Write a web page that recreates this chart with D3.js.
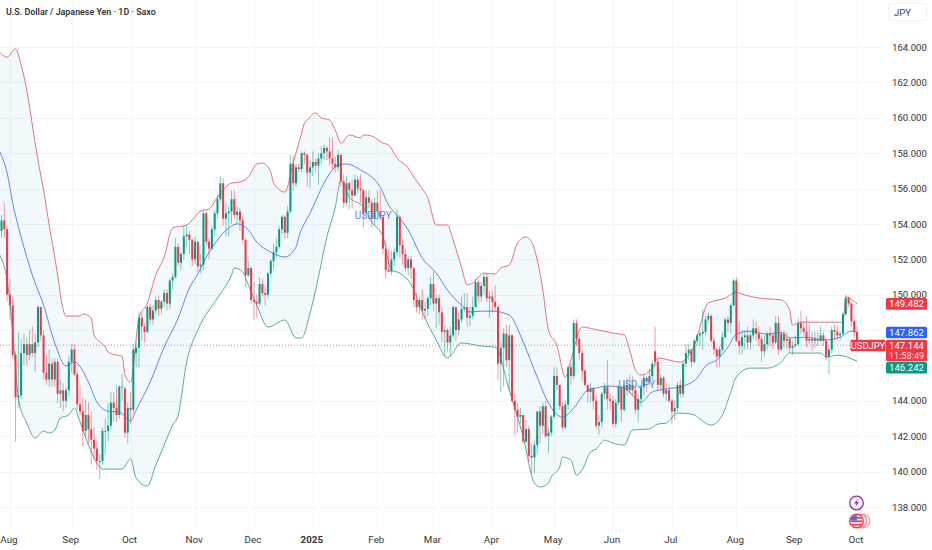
<!DOCTYPE html>
<html>
<head>
<meta charset="utf-8">
<style>
  html,body{margin:0;padding:0;background:#fff;}
  svg{display:block;font-family:Roboto,"Liberation Sans",sans-serif;}
</style>
</head>
<body>
<svg id="chart" width="932" height="550"></svg>
<script src="https://cdn.jsdelivr.net/npm/d3@7/dist/d3.min.js"></script>
<script>
// candles per month: [open, high, low, close]
const jul24=[[153.6,154.5,153.2,154.2],[154.2,155.2,153.2,153.7],[153.7,153.9,149.6,150.0]];
const aug24=[[150.0,150.9,148.6,149.4],[149.4,149.9,146.4,146.6],[146.6,146.8,141.7,144.2],[144.2,147.9,143.6,144.3],[144.3,147.5,144.1,146.7],[146.7,147.8,146.0,147.2],[147.2,147.6,146.0,146.6],[146.6,148.0,146.3,147.2],[147.2,148.2,146.5,146.7],[146.7,147.8,145.6,147.3],[147.3,149.4,147.0,149.3],[149.3,149.3,147.4,147.7],[147.7,148.0,145.2,145.6],[145.6,146.6,144.9,145.2],[145.2,146.9,144.8,146.1],[146.1,146.4,144.8,145.2],[145.2,146.4,144.8,146.2],[146.2,146.4,143.9,144.4],[144.4,145.2,143.6,144.6],[144.6,145.0,143.4,144.0],[144.0,144.8,143.6,144.6],[144.6,146.5,144.3,146.2]];
const sep24=[[146.2,147.2,145.6,146.9],[146.9,147.2,145.4,145.5],[145.5,145.7,143.5,143.8],[143.8,144.9,143.2,143.4],[143.4,144.2,141.4,142.3],[142.3,144.1,142.0,143.2],[143.2,143.9,141.6,142.4],[142.4,143.4,140.4,141.8],[141.8,142.5,140.7,141.3],[141.3,141.7,140.1,140.6],[140.6,141.0,139.6,140.6],[140.6,142.5,140.4,142.3],[142.3,143.0,141.0,142.3],[142.3,143.9,141.7,142.6],[142.6,144.5,142.4,143.9],[143.9,144.5,142.8,143.6],[143.6,144.9,142.8,143.2],[143.2,144.9,143.0,144.8],[144.8,145.5,144.0,144.8],[144.7,144.8,141.9,142.2],[142.2,143.9,141.6,143.6]];
const oct24=[[143.6,144.5,142.7,143.5],[143.5,147.2,143.3,146.9],[146.7,147.3,145.9,147.0],[147.0,149.0,145.9,148.7],[148.7,149.0,147.4,148.2],[148.2,148.4,147.3,147.9],[147.9,149.4,147.8,149.3],[149.3,149.5,148.3,148.6],[148.6,149.4,148.3,149.1],[149.1,149.9,148.9,149.7],[149.7,149.9,148.8,149.2],[149.2,149.7,148.9,149.6],[149.6,150.3,149.3,150.1],[150.1,150.3,149.1,149.5],[149.5,150.9,149.2,150.8],[150.8,151.2,150.3,151.0],[151.0,153.2,150.9,152.7],[152.7,152.9,151.6,151.8],[151.8,152.4,151.4,152.3],[152.3,153.9,152.0,153.3],[153.3,153.9,152.7,153.4],[153.4,153.6,152.3,153.1],[153.1,153.2,151.6,152.0]];
const nov24=[[152.0,153.3,151.7,153.0],[153.0,153.0,151.3,151.6],[151.6,152.3,151.2,151.7],[151.7,154.7,151.4,154.6],[154.6,154.7,152.8,153.0],[153.0,153.2,152.0,152.6],[152.6,153.9,152.5,153.7],[153.7,154.8,153.3,154.6],[154.6,155.6,154.3,155.4],[155.4,156.7,155.2,156.3],[156.3,156.6,153.9,154.3],[154.3,155.2,153.3,154.6],[154.6,155.0,153.3,154.7],[154.7,155.9,154.0,155.4],[155.4,155.9,154.3,154.5],[154.5,155.0,154.0,154.7],[154.7,154.9,153.6,154.2],[154.2,154.4,152.9,153.1],[153.1,153.2,150.4,151.1],[151.1,151.9,151.0,151.5],[151.5,151.6,149.5,149.7]];
const dec24=[[149.7,150.7,148.6,149.6],[149.6,150.0,148.7,149.5],[149.5,151.0,149.4,150.6],[150.6,150.9,149.9,150.1],[150.1,150.5,149.4,150.0],[150.0,151.3,149.8,151.2],[151.2,152.0,151.0,151.9],[151.9,152.9,151.4,152.4],[152.4,153.2,152.1,152.7],[152.7,153.9,152.6,153.7],[153.7,154.5,153.4,154.4],[154.4,154.5,153.2,153.5],[153.5,155.0,153.2,154.7],[154.7,157.9,154.6,157.4],[157.4,157.9,155.9,156.3],[156.3,157.4,156.1,157.2],[157.2,157.4,156.9,157.1],[157.1,158.1,156.9,158.0],[158.0,158.1,157.4,157.9],[157.9,158.0,156.1,156.9],[156.9,157.6,156.0,157.2]];
const jan25=[[157.2,158.1,156.7,157.5],[157.5,157.7,156.9,157.3],[157.3,158.0,156.2,157.7],[157.7,158.4,157.4,158.0],[158.0,158.5,157.6,158.3],[158.3,158.4,157.6,158.1],[158.1,158.9,157.3,157.7],[157.7,158.9,157.1,157.4],[157.4,157.8,156.9,157.2],[157.2,158.2,157.0,157.9],[157.9,158.0,156.1,156.4],[156.4,156.8,154.9,155.2],[155.2,156.7,155.0,156.3],[156.3,156.4,154.8,155.9],[155.9,156.5,154.9,155.6],[155.6,156.8,155.6,156.5],[156.5,156.7,155.7,156.0],[156.0,156.8,155.2,155.9],[155.9,156.0,153.8,154.6],[154.6,155.9,154.5,155.5],[155.5,155.9,154.9,155.2],[155.2,155.4,153.8,154.3],[154.3,155.5,153.9,155.2]];
const feb25=[[155.2,155.9,154.5,154.7],[154.7,155.9,154.2,154.4],[154.4,154.5,152.3,152.6],[152.6,153.1,150.9,151.4],[151.4,152.6,151.3,151.3],[151.3,152.5,151.1,152.0],[152.0,152.6,151.6,152.4],[152.4,154.8,152.2,154.4],[154.4,154.5,152.1,152.8],[152.8,153.2,151.7,152.3],[152.3,152.6,151.3,151.5],[151.5,152.2,151.1,152.0],[152.0,152.2,150.9,151.5],[151.5,151.6,149.3,149.7],[149.7,150.1,149.0,149.3],[149.3,149.9,148.9,149.7],[149.7,150.3,148.6,149.1],[149.1,149.6,148.6,149.2],[149.2,149.9,148.8,149.8],[149.8,151.0,149.4,150.6]];
const mar25=[[150.6,151.3,149.1,149.5],[149.5,150.0,148.1,149.8],[149.8,150.0,148.3,149.0],[149.0,149.3,147.3,147.9],[147.9,148.3,146.5,148.0],[148.0,148.1,146.8,147.3],[147.3,148.2,146.5,147.7],[147.7,149.4,147.6,149.3],[149.3,149.3,147.4,148.0],[148.0,149.0,147.7,148.6],[148.6,149.9,148.4,149.2],[149.2,150.1,149.0,149.3],[149.3,150.1,148.2,148.7],[148.7,149.3,148.2,148.8],[148.8,149.9,148.6,149.3],[149.3,150.9,149.3,150.7],[150.7,150.8,149.5,149.9],[149.9,150.7,149.6,150.5],[150.5,151.2,150.0,151.0],[151.0,151.2,149.6,149.8],[149.8,150.2,148.7,149.9]];
const apr25=[[149.9,150.2,149.0,149.6],[149.6,150.5,149.1,149.3],[149.3,149.4,145.2,146.1],[146.1,147.4,144.5,147.0],[147.0,148.1,144.8,147.8],[147.8,148.3,145.9,146.3],[146.3,148.3,144.6,147.7],[147.7,147.8,143.9,144.0],[144.0,144.4,142.1,143.5],[143.5,143.9,142.2,143.1],[143.1,143.6,142.7,143.2],[143.2,143.2,141.6,141.7],[141.7,142.9,141.6,142.4],[142.4,142.6,140.6,140.9],[140.9,141.6,139.9,140.8],[140.8,141.7,139.9,141.5],[141.5,143.4,141.0,143.4],[143.4,143.7,141.6,142.6],[142.6,143.9,142.1,143.7],[143.7,144.0,141.9,142.0],[142.0,142.5,141.0,142.2],[142.2,143.2,142.0,143.1]];
const may25=[[143.1,145.9,143.0,145.4],[145.4,145.9,144.6,144.9],[144.9,144.9,143.5,143.7],[143.7,143.9,142.4,142.5],[142.5,144.0,142.4,143.8],[143.8,146.0,143.5,145.9],[145.9,146.1,144.9,145.4],[145.4,148.6,145.2,148.4],[148.4,148.6,147.1,147.5],[147.5,147.7,146.3,146.7],[146.7,146.9,145.1,145.7],[145.7,145.8,144.8,144.9],[144.9,144.9,143.9,144.5],[144.5,145.0,143.9,144.7],[144.7,144.8,143.5,144.0],[144.0,144.3,142.4,142.6],[142.6,143.2,142.1,142.8],[142.8,144.5,142.5,144.4],[144.4,145.0,144.1,144.8],[144.8,146.3,143.5,144.1],[144.1,144.4,143.5,144.0]];
const jun25=[[144.0,144.3,142.5,142.7],[142.7,144.1,142.5,143.9],[143.9,144.9,143.7,144.8],[144.8,144.8,142.8,143.5],[143.5,145.1,143.4,144.9],[144.9,145.3,144.3,144.6],[144.6,145.5,144.4,144.9],[144.9,145.4,144.3,144.6],[144.6,144.9,143.3,143.5],[143.5,144.4,142.8,144.1],[144.1,144.9,143.7,144.8],[144.8,145.5,144.3,145.3],[145.3,145.4,144.5,145.1],[145.1,145.8,144.9,145.4],[145.4,146.3,145.1,146.1],[146.8,148.2,145.9,146.2],[146.2,146.4,144.6,144.9],[144.9,145.5,144.6,145.3],[145.3,145.4,144.2,144.4],[144.4,145.0,144.0,144.6],[144.6,144.9,143.9,144.0]];
const jul25=[[144.0,144.1,142.7,143.4],[143.4,144.0,142.9,143.6],[143.6,145.1,143.4,144.9],[144.9,145.2,144.2,144.4],[144.4,146.2,144.2,146.1],[146.1,147.2,145.9,146.7],[146.7,147.2,146.3,146.9],[146.9,146.9,145.9,146.2],[146.2,147.5,146.1,147.4],[147.4,147.8,147.1,147.7],[147.7,147.9,147.1,147.8],[147.8,149.2,146.9,147.9],[147.9,148.8,147.7,148.6],[148.6,149.0,148.4,148.8],[148.8,148.9,147.3,147.4],[147.4,147.6,146.6,146.9],[146.9,147.0,145.9,146.5],[146.5,147.1,145.9,146.9],[146.9,147.9,146.8,147.6],[147.6,148.7,147.5,148.6],[148.6,148.8,147.9,148.4],[148.4,149.5,147.8,149.4],[149.4,150.9,149.3,150.8]];
const aug25=[[150.8,151.0,147.3,147.4],[147.4,148.5,146.6,147.1],[147.1,148.0,146.6,147.6],[147.6,148.0,146.9,147.7],[147.7,148.2,146.9,147.3],[147.3,147.9,146.9,147.7],[147.7,148.6,147.5,148.1],[148.1,148.5,147.4,147.8],[147.8,148.2,147.1,147.5],[147.5,147.7,146.2,146.8],[146.8,147.7,146.5,147.2],[147.2,147.9,146.9,147.8],[147.8,148.2,147.1,147.7],[147.7,147.8,146.9,147.3],[147.3,148.8,147.2,148.4],[148.4,148.8,146.6,146.9],[146.9,147.9,146.8,147.8],[147.8,148.0,147.0,147.4],[147.4,147.9,146.9,147.5],[147.5,147.6,146.7,147.0],[147.0,147.4,146.6,147.1]];
const sep25=[[147.1,147.7,147.0,147.2],[147.2,148.7,147.1,148.4],[148.4,149.1,147.8,148.1],[148.1,148.5,147.7,147.9],[147.9,148.8,147.0,147.4],[147.4,148.3,147.2,147.5],[147.5,147.9,146.8,147.4],[147.4,147.9,147.0,147.5],[147.5,147.9,147.1,147.4],[147.4,148.2,147.3,147.7],[147.7,147.9,147.1,147.4],[147.4,147.5,146.3,146.5],[146.5,147.1,145.5,146.9],[146.9,148.2,146.7,148.0],[148.0,148.3,147.4,147.9],[147.9,148.2,147.4,147.7],[147.7,147.9,147.4,147.8],[147.8,149.0,147.7,148.9],[148.9,150.0,148.8,149.8],[149.8,149.9,149.3,149.5],[149.5,149.6,148.2,148.5],[148.5,148.6,147.6,147.9]];
const oct25=[[147.9,148.2,147.0,147.144]];

const monthCandles=[aug24,sep24,oct24,nov24,dec24,jan25,feb25,mar25,apr25,may25,jun25,jul25,aug25,sep25,oct25];
const monthLabels=['Aug','Sep','Oct','Nov','Dec','2025','Feb','Mar','Apr','May','Jun','Jul','Aug','Sep','Oct'];

// bollinger bands: [bar number, price]
const upperBand=[[-1,163.77],[2,163.43],[5,163.89],[7,162.98],[9,161.57],[11,159.59],[13,157.61],[15,155.92],[17,153.94],[20,151.11],[21,149.98],[23,148.79],[28,148.79],[29,148.91],[32,148.68],[33,147.72],[37,147.04],[38,146.76],[41,146.59],[43,146.53],[44,145.46],[46,145.06],[49,148.68],[52,149.53],[55,151.11],[58,152.13],[61,153.77],[66,153.94],[68,154.22],[71,154.73],[74,154.84],[77,155.52],[79,155.92],[82,156.31],[85,156.37],[88,156.65],[91,157.39],[93,157.44],[96,156.93],[97,156.31],[101,155.80],[104,157.44],[107,159.14],[108,159.70],[109,159.87],[112,160.27],[114,159.99],[117,159.87],[119,159.31],[121,158.57],[124,159.03],[128,158.86],[129,159.03],[132,158.97],[136,158.57],[138,158.46],[141,157.72],[145,157.16],[147,156.65],[149,156.20],[152,155.46],[155,153.94],[159,153.94],[161,153.09],[164,151.56],[166,150.55],[168,150.66],[172,151.22],[176,151.17],[178,151.51],[181,151.67],[184,152.92],[187,153.26],[189,152.98],[191,151.96],[193,150.26],[195,148.00],[198,147.15],[201,145.34],[203,146.31],[207,148.17],[211,148.06],[218,147.83],[222,147.72],[224,146.87],[226,145.74],[228,145.46],[232,145.85],[234,146.42],[242,146.19],[247,147.15],[252,149.53],[258,149.81],[262,150.15],[263,150.09],[270,149.81],[278,149.70],[281,149.13],[282,148.28],[285,148.45],[292,148.45],[300,148.45],[301,149.87],[305,149.482]];
const middleBand=[[-1,158.18],[2,156.88],[4,155.18],[7,153.26],[11,151.11],[15,149.41],[19,147.27],[23,145.97],[26,146.19],[31,145.06],[34,143.93],[38,143.42],[42,143.37],[46,142.86],[48,143.48],[53,145.06],[58,147.04],[63,148.68],[67,150.38],[70,151.17],[73,152.13],[77,153.09],[81,153.77],[84,154.00],[88,153.66],[91,152.98],[96,152.41],[101,152.13],[105,152.69],[106,153.26],[110,154.61],[111,154.95],[115,156.31],[120,157.33],[123,157.39],[128,157.05],[132,156.65],[135,156.09],[138,155.07],[141,154.50],[145,153.66],[150,152.07],[155,151.22],[159,150.26],[164,149.41],[167,149.02],[171,149.07],[175,149.07],[181,148.85],[186,147.32],[191,145.34],[195,143.87],[200,143.08],[204,143.59],[209,144.61],[212,144.72],[216,144.84],[222,144.72],[228,143.93],[232,144.50],[237,144.67],[243,144.84],[248,145.29],[251,145.97],[255,146.31],[259,147.04],[262,147.77],[267,147.94],[273,147.77],[278,147.88],[281,147.55],[287,147.60],[293,147.44],[299,147.60],[303,147.94],[305,147.862]];
const lowerBand=[[-1,152.35],[1,151.56],[2,150.83],[4,147.89],[6,144.16],[9,142.74],[12,141.90],[15,142.29],[17,142.18],[19,142.35],[21,143.03],[24,143.20],[26,143.59],[28,142.80],[31,141.50],[34,140.48],[36,140.14],[43,140.14],[46,140.71],[48,139.63],[52,139.18],[55,140.37],[58,141.50],[61,142.63],[63,143.20],[66,146.19],[70,148.00],[77,149.81],[82,151.11],[83,151.51],[86,151.28],[88,150.55],[91,149.41],[95,148.17],[101,148.57],[105,147.55],[107,147.55],[110,148.96],[112,150.26],[116,153.26],[119,154.95],[121,156.48],[124,155.52],[129,154.95],[132,154.11],[136,153.26],[139,151.39],[142,151.22],[147,150.26],[149,149.41],[155,147.44],[159,146.42],[164,147.27],[171,147.10],[176,147.04],[181,144.61],[186,141.95],[190,139.35],[192,139.13],[195,139.35],[196,139.69],[199,140.26],[200,140.82],[203,140.65],[205,139.80],[207,140.09],[210,141.11],[212,141.27],[215,141.78],[218,141.61],[222,141.50],[225,142.35],[231,142.41],[234,142.69],[237,142.74],[241,143.31],[246,143.25],[253,142.63],[257,143.20],[260,144.49],[262,145.35],[267,145.85],[273,145.85],[278,146.19],[281,146.70],[292,146.70],[294,146.47],[298,146.58],[305,146.242]];

const gridPrices=[138,140,142,144,146,148,150,152,154,156,158,160,162,164];
const priceLabels=[138,140,142,144,150,152,154,156,158,160,162,164]; // 146 and 148 sit under the price tags
const lastPrice=147.144, upperLast=149.482, middleLast=147.862, lowerLast=146.242;
const countdown='11:58:49';
const symbol='USDJPY', title='U.S. Dollar / Japanese Yen · 1D · Saxo', currency='JPY';

const upColor='#089981', downColor='#F23645', blue='#2962FF';

const candles=jul24.concat(...monthCandles).map(c=>({open:c[0],high:c[1],low:c[2],close:c[3]}));
// first bar of each month, counted from the length of the month lists
let bar=jul24.length;
const monthStart=monthCandles.map(m=>{const s=bar; bar+=m.length; return s;});

const svg=d3.select('#chart');
const x=d3.scaleLinear().domain([0,candles.length-1]).range([1.5,857]);
const y=d3.scaleLinear().domain([138,164]).range([507,47]);

// grid
const grid=svg.append('g').attr('stroke','#f4f5f7').attr('stroke-width',1);
grid.selectAll('.h').data(gridPrices).enter().append('line').attr('x1',0).attr('x2',881).attr('y1',d=>Math.round(y(d))+.5).attr('y2',d=>Math.round(y(d))+.5);
grid.selectAll('.v').data(monthStart).enter().append('line').attr('y1',0).attr('y2',530).attr('x1',d=>Math.round(x(d))+.5).attr('x2',d=>Math.round(x(d))+.5);

// bands
const line=d3.line().x(d=>x(d[0])).y(d=>y(d[1])).curve(d3.curveMonotoneX);
svg.append('path').attr('d',line(upperBand)+line(lowerBand.slice().reverse()).replace('M','L')+'Z').attr('fill','#1e9bd8').attr('fill-opacity',.06);
svg.append('line').attr('x1',0).attr('x2',850).attr('y1',y(lastPrice)).attr('y2',y(lastPrice)).attr('stroke',downColor).attr('stroke-width',.8).attr('stroke-dasharray','1 2').attr('opacity',.8);
[[upperBand,'#e8707c'],[middleBand,'#5f86e6'],[lowerBand,'#58ab9b']].forEach(b=>{
  svg.append('path').attr('d',line(b[0])).attr('fill','none').attr('stroke',b[1]).attr('stroke-width',1);
});

// candles
const col=d=>d.close>=d.open?upColor:downColor;
const cg=svg.append('g');
cg.selectAll('.wick').data(candles).enter().append('line').attr('x1',(d,i)=>x(i)).attr('x2',(d,i)=>x(i))
  .attr('y1',d=>y(d.high)).attr('y2',d=>y(d.low)).attr('stroke',col).attr('stroke-width',1).attr('opacity',.5);
cg.selectAll('.body').data(candles).enter().append('rect').attr('x',(d,i)=>x(i)-1).attr('width',2)
  .attr('y',d=>y(Math.max(d.open,d.close))).attr('height',d=>Math.max(.8,Math.abs(y(d.open)-y(d.close)))).attr('fill',col);

// faint symbol labels over the chart
[[132.5,154.3],[226.5,144.72]].forEach(p=>{
  svg.append('text').attr('x',x(p[0])).attr('y',y(p[1])).attr('text-anchor','middle').attr('font-size',10).attr('fill','#5f86e6').text(symbol);
});

// axes
const yAxis=d3.axisRight(y).tickValues(priceLabels).tickFormat(d3.format('.3f')).tickSize(0).tickPadding(0);
const yg=svg.append('g').attr('transform','translate(892,0)').call(yAxis);
yg.select('.domain').remove();
yg.selectAll('text').attr('font-size',9.6).attr('font-family','Roboto').attr('fill','#333');

const xAxis=d3.axisBottom(x).tickValues(monthStart).tickFormat((d,i)=>monthLabels[i]).tickSize(0).tickPadding(0);
const xg=svg.append('g').attr('transform','translate(-1.5,536.5)').call(xAxis);
xg.select('.domain').remove();
xg.selectAll('text').attr('font-size',9.8).attr('font-family','Roboto').attr('fill','#333').attr('font-weight',(d,i)=>monthLabels[i]==='2025'?700:400);

// title
svg.append('text').attr('x',6).attr('y',15).attr('font-size',8.9).attr('font-weight',600).attr('fill','#333').text(title);

// currency box
svg.append('rect').attr('x',888.5).attr('y',3.5).attr('width',38).attr('height',17).attr('rx',2).attr('fill','#fff').attr('stroke','#f0f1f3');
svg.append('text').attr('x',894).attr('y',15.5).attr('font-size',9.6).attr('fill','#444').text(currency);

// price tags on the right, dy pushes a tag clear of the last price box
const tag=(val,color,dy)=>{
  const c=y(val)+dy;
  svg.append('rect').attr('x',886).attr('y',c-5.8).attr('width',41).attr('height',11.6).attr('rx',1.5).attr('fill',color);
  svg.append('text').attr('x',906.5).attr('y',c+3.4).attr('text-anchor','middle').attr('font-size',9.6).attr('fill','#fff').text(val.toFixed(3));
};
tag(upperLast,downColor,0);
tag(middleLast,blue,0);
tag(lowerLast,upColor,6.5);
const ly=y(lastPrice);
svg.append('rect').attr('x',886).attr('y',ly-5.5).attr('width',41).attr('height',21.5).attr('rx',1.5).attr('fill',downColor);
svg.append('text').attr('x',906.5).attr('y',ly+3.6).attr('text-anchor','middle').attr('font-size',9.6).attr('fill','#fff').text(lastPrice.toFixed(3));
svg.append('text').attr('x',906.5).attr('y',ly+13.4).attr('text-anchor','middle').attr('font-size',9.2).attr('fill','#fff').attr('opacity',.8).text(countdown);
svg.append('rect').attr('x',850.5).attr('y',ly-5.5).attr('width',35).attr('height',11.5).attr('rx',1.5).attr('fill',downColor);
svg.append('text').attr('x',868).attr('y',ly+3.6).attr('text-anchor','middle').attr('font-size',9.4).attr('fill','#fff').text(symbol);

// event markers at the bottom
const ev=svg.append('g');
ev.append('circle').attr('cx',856.5).attr('cy',503).attr('r',6.8).attr('fill','#fff').attr('stroke','#9c27b0').attr('stroke-width',1.3);
ev.append('path').attr('d','M858 498.5L854 503.5H856.6L855 507.5L859.2 502H856.6Z').attr('fill','#9c27b0');
[[863,'#f7a1a8'],[860,'#f28a93'],[856.5,'#F23645']].forEach(f=>{
  ev.append('circle').attr('cx',f[0]).attr('cy',521).attr('r',6.8).attr('fill','#fff').attr('stroke',f[1]).attr('stroke-width',1.4);
});
ev.append('clipPath').attr('id','flag').append('circle').attr('cx',856.5).attr('cy',521).attr('r',6);
const flag=ev.append('g').attr('clip-path','url(#flag)');
flag.append('rect').attr('x',850).attr('y',515).attr('width',13).attr('height',12).attr('fill','#f8d7da');
[517,520.5,524].forEach(s=>flag.append('rect').attr('x',850).attr('y',s).attr('width',13).attr('height',1.6).attr('fill','#e8434f'));
flag.append('rect').attr('x',850).attr('y',515).attr('width',6.8).attr('height',5.5).attr('fill','#3f6fd8');
</script>
</body>
</html>
